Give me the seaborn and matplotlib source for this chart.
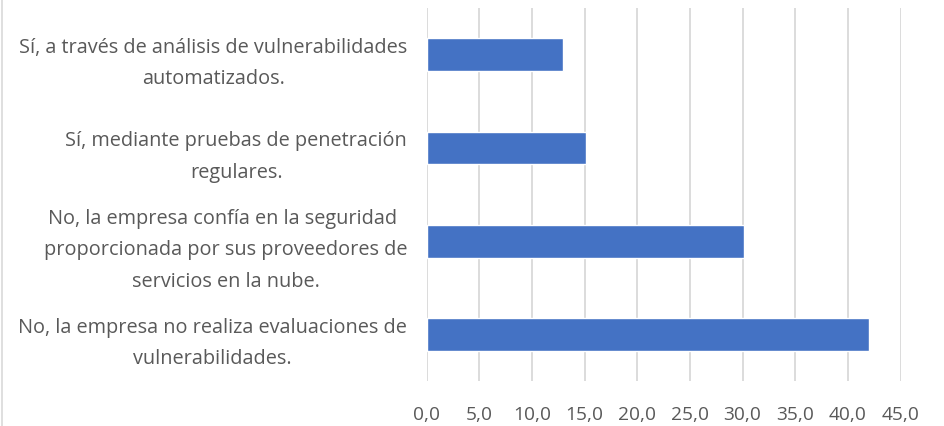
import matplotlib
matplotlib.use("Agg")
import matplotlib.pyplot as plt
import seaborn as sns
import pandas as pd

categories = [
    "Sí, a través de análisis de vulnerabilidades\nautomatizados.",
    "Sí, mediante pruebas de penetración\nregulares.",
    "No, la empresa confía en la seguridad \nproporcionada por sus proveedores de\nservicios en la nube.",
    "No, la empresa no realiza evaluaciones de\nvulnerabilidades.",
]
values = [12.9, 15.1, 30.1, 42.0]
xticks = [0, 5, 10, 15, 20, 25, 30, 35, 40, 45]

sns.set_theme(style="white")
plt.rcParams['font.family'] = ['Open Sans', 'DejaVu Sans']

df = pd.DataFrame({"categoria": categories, "valor": values})

fig = plt.figure(figsize=(9.44, 4.27), dpi=100)
ax = fig.add_axes([0.452, 0.105, 0.502, 0.874])

sns.barplot(data=df, y="categoria", x="valor", color="#4472C4",
            width=0.35, saturation=1, ax=ax, zorder=3)

ax.set_xlim(0, 45)
ax.set_ylim(3.5, -0.5)
ax.set_xticks(xticks)
ax.set_xticklabels([f"{t:.1f}".replace(".", ",") for t in xticks])
ax.xaxis.grid(True, color="#d9d9d9", linewidth=1.3, zorder=0)
ax.yaxis.grid(False)
for s in ax.spines.values():
    s.set_visible(False)
ax.set_xlabel("")
ax.set_ylabel("")
ax.tick_params(axis="x", colors="#595959", labelsize=13.8, length=0, pad=17)
ax.tick_params(axis="y", colors="#595959", labelsize=14.3, length=0, pad=14)
for lab in ax.get_yticklabels():
    lab.set_multialignment("center")
    lab.set_linespacing(1.75)

# thin frame line on the left edge like the original chart frame
fig.add_artist(plt.Line2D([0.002, 0.002], [0, 1], color="#d9d9d9", linewidth=1.2))

fig.savefig("out.png", dpi=100)
